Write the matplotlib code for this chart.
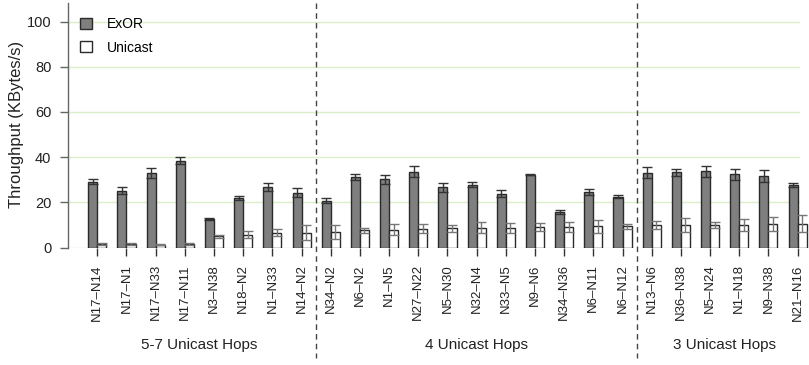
import numpy as np
import matplotlib
matplotlib.use("Agg")
import matplotlib.pyplot as plt

plt.rcParams['font.family'] = ['Liberation Sans', 'DejaVu Sans']

pares = ["N17–N14", "N17–N1", "N17–N33", "N17–N11", "N3–N38", "N18–N2", "N1–N33", "N14–N2",
         "N34–N2", "N6–N2", "N1–N5", "N27–N22", "N5–N30", "N32–N4", "N33–N5", "N9–N6",
         "N34–N36", "N6–N11", "N6–N12",
         "N13–N6", "N36–N38", "N5–N24", "N1–N18", "N9–N38", "N21–N16"]

exor = [29.1, 25.1, 33.1, 38.4, 12.6, 21.8, 26.9, 24.3,
        20.7, 31.2, 30.3, 33.5, 26.6, 27.8, 23.8, 32.2, 15.7, 24.7, 22.5,
        33.1, 33.2, 33.8, 32.4, 31.6, 27.6]
exor_err = [1.2, 1.6, 2.2, 1.6, 0.3, 1.0, 1.8, 2.0,
            1.0, 1.4, 2.0, 2.4, 2.0, 1.0, 1.5, 0.3, 0.8, 1.3, 0.8,
            2.4, 1.6, 2.4, 2.4, 2.8, 1.0]
unicast = [1.5, 1.5, 1.3, 1.5, 4.9, 5.6, 6.6, 6.6,
           6.9, 7.6, 7.9, 8.4, 8.5, 8.8, 8.8, 9.1, 9.1, 9.3, 9.3,
           10.0, 10.0, 10.1, 10.1, 10.4, 10.6]
unicast_err = [0.3, 0.3, 0.3, 0.3, 0.6, 1.5, 1.4, 3.2,
               3.0, 1.0, 2.4, 2.2, 1.6, 2.6, 2.2, 1.6, 2.2, 2.8, 1.0,
               1.7, 3.2, 1.3, 2.6, 3.2, 3.6]

grupos = ["5-7 Unicast Hops", "4 Unicast Hops", "3 Unicast Hops"]
tam_grupos = [8, 11, 6]

x = np.arange(len(pares))
w = 0.31

fig = plt.figure(figsize=(8.09, 3.65), dpi=100)
ax = fig.add_axes([68/809, 117.5/365, 741/809, 244.5/365])

for g in range(0, 101, 20):
    ax.plot([-1.0, 24.05], [g, g], color='#d9efc8', lw=1.0, zorder=0)

ax.bar(x - w/2, exor, w, color='#7f7f7f', edgecolor='#2a2a2a', lw=1.0, label='ExOR', zorder=2)
ax.bar(x + w/2, unicast, w, color='white', edgecolor='#2a2a2a', lw=1.0, label='Unicast', zorder=2)
ax.errorbar(x - w/2, exor, yerr=exor_err, fmt='none', ecolor='#333333', elinewidth=1.0, capsize=3.5, zorder=3)
ax.errorbar(x + w/2, unicast, yerr=unicast_err, fmt='none', ecolor='#777777', elinewidth=1.0, capsize=3.5, zorder=3)

ax.set_xlim(-1.004, 24.39)
ax.set_ylim(0, 108.2)

# separadores entre grupos
inicio = 0
for i, (nome, n) in enumerate(zip(grupos, tam_grupos)):
    centro = inicio + (n - 1) / 2
    ax.text(centro, -43, nome, ha='center', va='center', fontsize=11, color='#222222', clip_on=False)
    if i < len(grupos) - 1:
        sep = inicio + n - 0.5
        ax.plot([sep, sep], [108.2, -49], ls=(0, (4, 3)), color='#444444', lw=1.0, clip_on=False, zorder=1)
    inicio += n

for s in ['top', 'right', 'bottom']:
    ax.spines[s].set_visible(False)
ax.spines['left'].set_color('#666666')
ax.spines['left'].set_linewidth(1.0)

ax.set_yticks(range(0, 101, 20))
ax.tick_params(axis='y', length=6, width=1.0, color='#666666', pad=6, labelsize=10.5, labelcolor='#222222')
ax.set_xticks(x)
ax.set_xticklabels(pares, rotation=90, fontsize=9.5, color='#222222')
ax.tick_params(axis='x', length=6, width=1.0, color='#333333', pad=6)

fig.text(17/809, 0.658, 'Throughput (KBytes/s)', rotation=90, ha='center', va='center', fontsize=12, color='#222222')

ax.legend(loc='upper left', bbox_to_anchor=(80/809, 1 - 17/365), bbox_transform=fig.transFigure,
          frameon=False, fontsize=10, handlelength=0.85, handleheight=0.85, labelspacing=0.7,
          handletextpad=1.1, borderpad=0, borderaxespad=0)

plt.savefig('out.png', dpi=100)
